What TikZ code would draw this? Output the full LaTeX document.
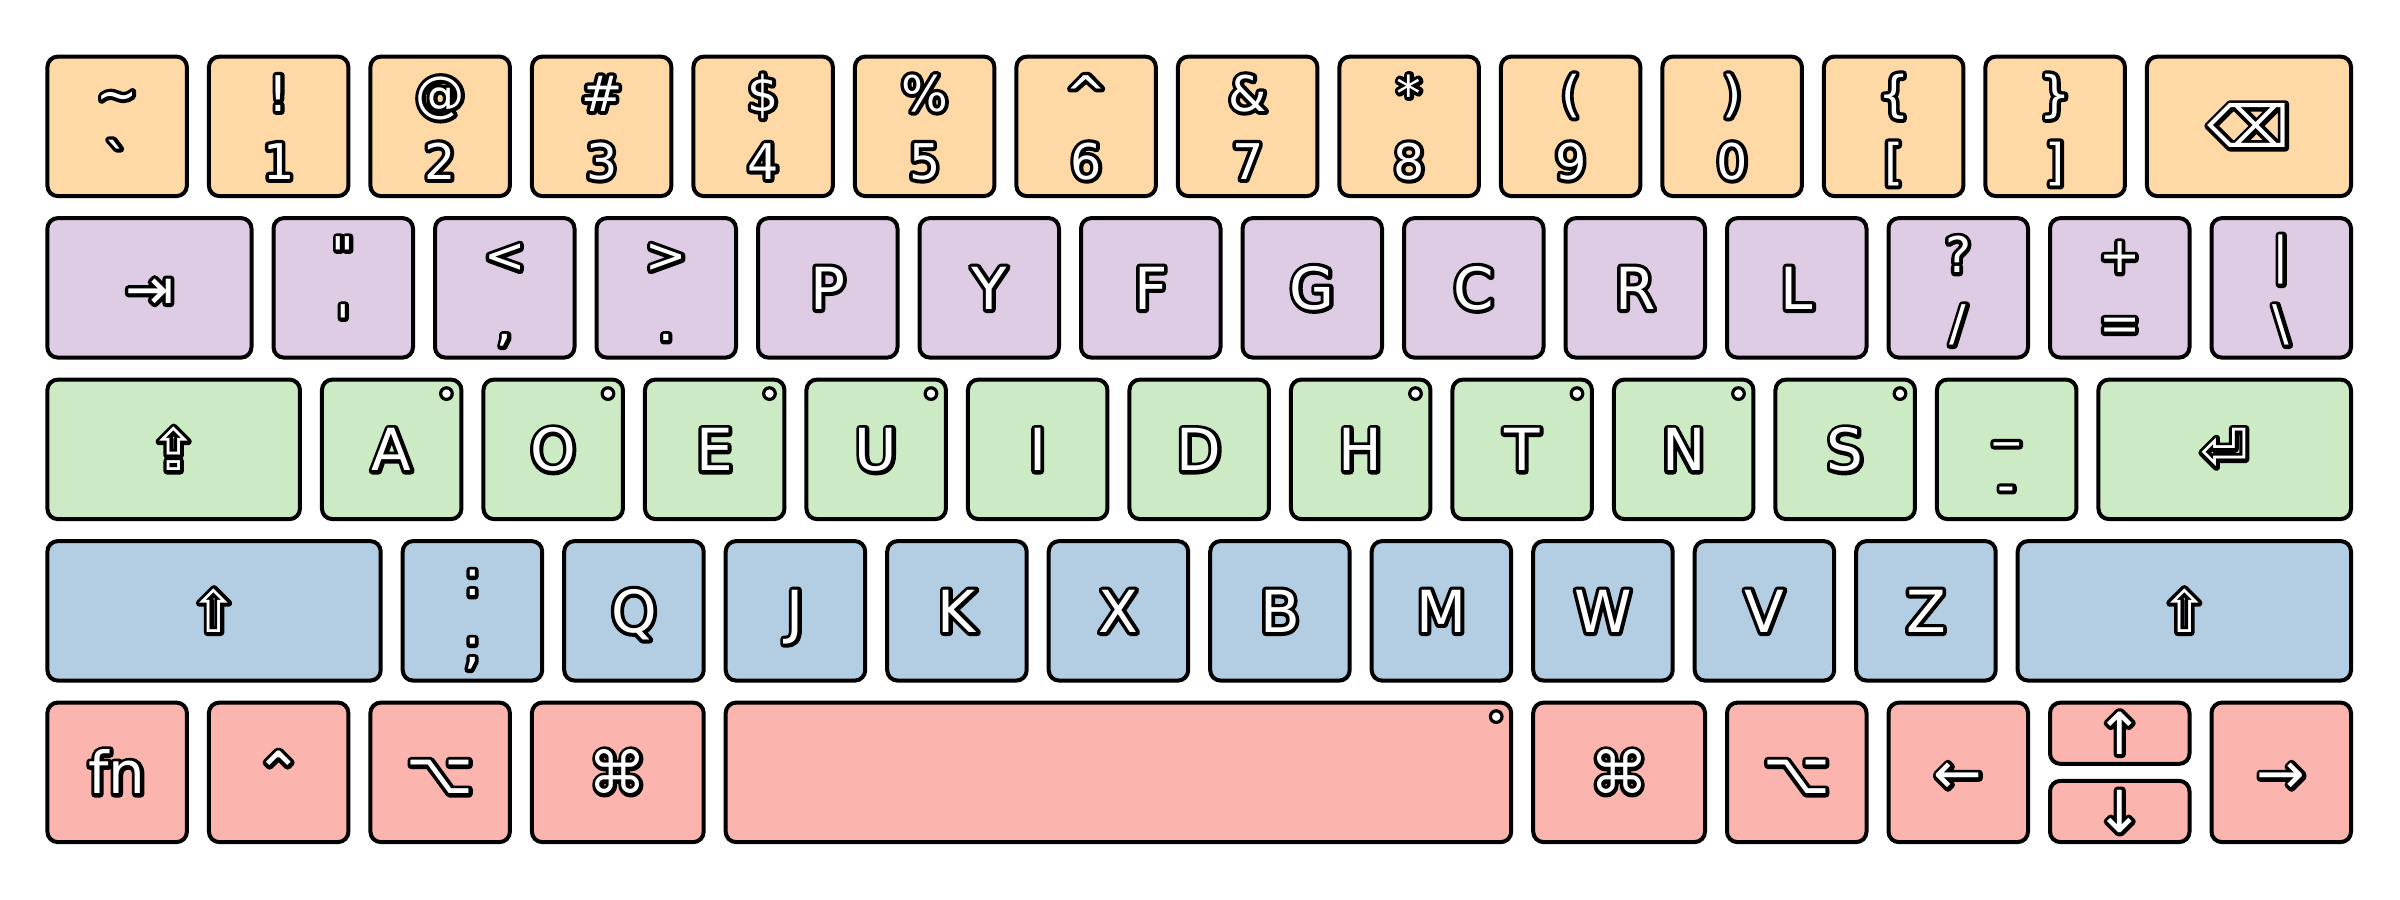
\documentclass[tikz,border=0pt]{standalone}
\usepackage{fontspec}
\newfontfamily\kf{DejaVu Sans}
\definecolor{corange}{HTML}{FED9A6}
\definecolor{cpurple}{HTML}{DECBE4}
\definecolor{cgreen}{HTML}{CCEBC5}
\definecolor{cblue}{HTML}{B3CDE3}
\definecolor{cred}{HTML}{FBB4AE}
\def\U{161.5}\def\G{22}\def\H{139.5}\def\Xo{47.4}\def\Yo{56.6}\def\RP{161.5}
\tikzset{
  keybox/.style={draw=black,line width=1pt,rounded corners=2.6pt,rectangle,
    minimum height=34.875pt,inner sep=0pt,outer sep=0pt},
  labone/.style={font=\kf\fontsize{14.5}{17}\selectfont,text=white,inner sep=0pt,outer sep=0pt,anchor=base},
  labtwo/.style={font=\kf\fontsize{12.3}{15}\selectfont,text=white,inner sep=0pt,outer sep=0pt,anchor=base},
  hdot/.style={circle,draw=black,fill=white,line width=0.8pt,minimum size=2.9pt,inner sep=0pt}
}
% black stroked copy under a white filled copy
\newcommand\ol[1]{\leavevmode\rlap{\special{pdf:literal direct 1 j 1 J 1.8 w 0 0 0 RG 1 Tr}#1\special{pdf:literal direct 0 Tr}}#1}
\newcommand\mkkey[5]{%
  \pgfmathsetmacro\kcx{\Xo+#2*\U+(#4*\U-\G)/2}%
  \pgfmathsetmacro\kcy{\Yo+#3*\RP+\H/2}%
  \pgfmathsetmacro\kw{(#4*\U-\G)*0.25}%
  \node[keybox,fill=#5,minimum width=\kw pt] (#1) at (\kcx,\kcy) {};}
\newcommand\one[2]{\node[labone] (#1-t) at ([yshift=-5.4pt]#1.center) {\ol{#2}};}
\newcommand\two[3]{\node[labtwo] (#1-u) at ([yshift=3.75pt]#1.center) {\ol{#2}};
  \node[labtwo] (#1-d) at ([yshift=-13.25pt]#1.center) {\ol{#3}};}
\newcommand\homedot[1]{\node[hdot] (#1-dot) at ([xshift=-3.75pt,yshift=-3.5pt]#1.north east) {};}
\begin{document}
\begin{tikzpicture}[x=0.25pt,y=-0.25pt]
\useasboundingbox (0,0) rectangle (2400,900);
\fill[white] (0,0) rectangle (2400,900);
% ---- number row
\mkkey{r0c0}{0}{0}{1}{corange}\two{r0c0}{\textasciitilde}{`}
\mkkey{r0c1}{1}{0}{1}{corange}\two{r0c1}{!}{1}
\mkkey{r0c2}{2}{0}{1}{corange}\two{r0c2}{@}{2}
\mkkey{r0c3}{3}{0}{1}{corange}\two{r0c3}{\#}{3}
\mkkey{r0c4}{4}{0}{1}{corange}\two{r0c4}{\$}{4}
\mkkey{r0c5}{5}{0}{1}{corange}\two{r0c5}{\%}{5}
\mkkey{r0c6}{6}{0}{1}{corange}\two{r0c6}{\textasciicircum}{6}
\mkkey{r0c7}{7}{0}{1}{corange}\two{r0c7}{\&}{7}
\mkkey{r0c8}{8}{0}{1}{corange}\two{r0c8}{*}{8}
\mkkey{r0c9}{9}{0}{1}{corange}\two{r0c9}{(}{9}
\mkkey{r0c10}{10}{0}{1}{corange}\two{r0c10}{)}{0}
\mkkey{r0c11}{11}{0}{1}{corange}\two{r0c11}{\{}{[}
\mkkey{r0c12}{12}{0}{1}{corange}\two{r0c12}{\}}{]}
\mkkey{r0c13}{13}{0}{1.4}{corange}\one{r0c13}{⌫}
% ---- top letter row
\mkkey{r1c0}{0}{1}{1.4}{cpurple}\one{r1c0}{⇥}
\mkkey{r1c1}{1.4}{1}{1}{cpurple}\two{r1c1}{"}{'}
\mkkey{r1c2}{2.4}{1}{1}{cpurple}\two{r1c2}{<}{,}
\mkkey{r1c3}{3.4}{1}{1}{cpurple}\two{r1c3}{>}{.}
\mkkey{r1c4}{4.4}{1}{1}{cpurple}\one{r1c4}{P}
\mkkey{r1c5}{5.4}{1}{1}{cpurple}\one{r1c5}{Y}
\mkkey{r1c6}{6.4}{1}{1}{cpurple}\one{r1c6}{F}
\mkkey{r1c7}{7.4}{1}{1}{cpurple}\one{r1c7}{G}
\mkkey{r1c8}{8.4}{1}{1}{cpurple}\one{r1c8}{C}
\mkkey{r1c9}{9.4}{1}{1}{cpurple}\one{r1c9}{R}
\mkkey{r1c10}{10.4}{1}{1}{cpurple}\one{r1c10}{L}
\mkkey{r1c11}{11.4}{1}{1}{cpurple}\two{r1c11}{?}{/}
\mkkey{r1c12}{12.4}{1}{1}{cpurple}\two{r1c12}{+}{=}
\mkkey{r1c13}{13.4}{1}{1}{cpurple}\two{r1c13}{|}{\textbackslash}
% ---- home row
\mkkey{r2c0}{0}{2}{1.7}{cgreen}\one{r2c0}{⇪}
\mkkey{r2c1}{1.7}{2}{1}{cgreen}\one{r2c1}{A}\homedot{r2c1}
\mkkey{r2c2}{2.7}{2}{1}{cgreen}\one{r2c2}{O}\homedot{r2c2}
\mkkey{r2c3}{3.7}{2}{1}{cgreen}\one{r2c3}{E}\homedot{r2c3}
\mkkey{r2c4}{4.7}{2}{1}{cgreen}\one{r2c4}{U}\homedot{r2c4}
\mkkey{r2c5}{5.7}{2}{1}{cgreen}\one{r2c5}{I}
\mkkey{r2c6}{6.7}{2}{1}{cgreen}\one{r2c6}{D}
\mkkey{r2c7}{7.7}{2}{1}{cgreen}\one{r2c7}{H}\homedot{r2c7}
\mkkey{r2c8}{8.7}{2}{1}{cgreen}\one{r2c8}{T}\homedot{r2c8}
\mkkey{r2c9}{9.7}{2}{1}{cgreen}\one{r2c9}{N}\homedot{r2c9}
\mkkey{r2c10}{10.7}{2}{1}{cgreen}\one{r2c10}{S}\homedot{r2c10}
\mkkey{r2c11}{11.7}{2}{1}{cgreen}\two{r2c11}{\_}{-}
\mkkey{r2c12}{12.7}{2}{1.7}{cgreen}\one{r2c12}{⏎}
% ---- bottom letter row
\mkkey{r3c0}{0}{3}{2.2}{cblue}\one{r3c0}{⇧}
\mkkey{r3c1}{2.2}{3}{1}{cblue}\two{r3c1}{:}{;}
\mkkey{r3c2}{3.2}{3}{1}{cblue}\one{r3c2}{Q}
\mkkey{r3c3}{4.2}{3}{1}{cblue}\one{r3c3}{J}
\mkkey{r3c4}{5.2}{3}{1}{cblue}\one{r3c4}{K}
\mkkey{r3c5}{6.2}{3}{1}{cblue}\one{r3c5}{X}
\mkkey{r3c6}{7.2}{3}{1}{cblue}\one{r3c6}{B}
\mkkey{r3c7}{8.2}{3}{1}{cblue}\one{r3c7}{M}
\mkkey{r3c8}{9.2}{3}{1}{cblue}\one{r3c8}{W}
\mkkey{r3c9}{10.2}{3}{1}{cblue}\one{r3c9}{V}
\mkkey{r3c10}{11.2}{3}{1}{cblue}\one{r3c10}{Z}
\mkkey{r3c11}{12.2}{3}{2.2}{cblue}\one{r3c11}{⇧}
% ---- modifier row
\mkkey{r4c0}{0}{4}{1}{cred}\one{r4c0}{fn}
\mkkey{r4c1}{1}{4}{1}{cred}\one{r4c1}{⌃}
\mkkey{r4c2}{2}{4}{1}{cred}\one{r4c2}{⌥}
\mkkey{r4c3}{3}{4}{1.2}{cred}\one{r4c3}{⌘}
\mkkey{r4c4}{4.2}{4}{5}{cred}\homedot{r4c4}
\mkkey{r4c5}{9.2}{4}{1.2}{cred}\one{r4c5}{⌘}
\mkkey{r4c6}{10.4}{4}{1}{cred}\one{r4c6}{⌥}
\mkkey{r4c7}{11.4}{4}{1}{cred}\one{r4c7}{←}
\mkkey{r4c9}{13.4}{4}{1}{cred}\one{r4c9}{→}
% arrow up / down half keys
\pgfmathsetmacro\hcx{\Xo+12.4*\U+(\U-\G)/2}
\pgfmathsetmacro\hh{61.25}
\pgfmathsetmacro\upy{\Yo+4*\RP+\hh/2}
\pgfmathsetmacro\dny{\Yo+4*\RP+\H-\hh/2}
\pgfmathsetmacro\kw{(\U-\G)*0.25}
\node[keybox,fill=cred,minimum width=\kw pt,minimum height=15.3125pt] (kup) at (\hcx,\upy) {};
\node[keybox,fill=cred,minimum width=\kw pt,minimum height=15.3125pt] (kdn) at (\hcx,\dny) {};
\node[labone,anchor=center] (kup-t) at (kup.center) {\ol{↑}};
\node[labone,anchor=center] (kdn-t) at (kdn.center) {\ol{↓}};
\end{tikzpicture}
\end{document}
